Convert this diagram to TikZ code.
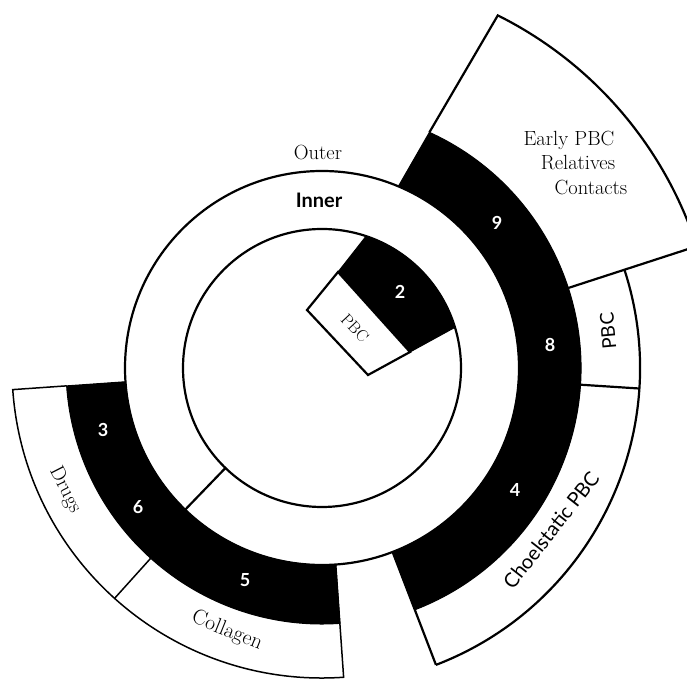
\documentclass[tikz,border=0pt]{standalone}
\usepackage{fontspec}
\newfontfamily\sansf{Lato}
\newcommand{\Ann}[5]{\path[#1] (#2:#4pt) arc[start angle=#2,end angle=#3,radius=#4pt] -- (#3:#5pt) arc[start angle=#3,end angle=#2,radius=#5pt] -- cycle;}
\begin{document}
\begin{tikzpicture}[x=1pt,y=1pt,line join=miter,
  outl/.style={draw=black,line width=2.2pt},
  thinl/.style={draw=black,line width=1.5pt},
  blk/.style={fill=black,draw=black,line width=1pt},
  wbox/.style={fill=white,draw=black,line width=2.2pt},
  seriflbl/.style={font=\fontsize{20.5}{24}\selectfont,inner sep=0pt},
  sanslbl/.style={font=\sansf\fontsize{19}{22}\selectfont,inner sep=0pt},
  num/.style={font=\sansf\bfseries\fontsize{18}{21}\selectfont,text=white,inner sep=0pt}]
\useasboundingbox (0,0) rectangle (687,679);
\clip (0,0) rectangle (687,679);
\fill[white] (0,0) rectangle (687,679);
\begin{scope}[shift={(322,311)}]
 % black bands
 \path[blk] (-69:197pt) arc[start angle=-69,end angle=67.2,radius=197pt] -- (65.5:259pt) arc[start angle=65.5,end angle=-69,radius=259pt] -- cycle;
 \Ann{blk}{184}{274}{197}{256}
 % right outer bands
 \draw[outl] (65.5:259pt) -- (63.5:394pt) arc[start angle=63.5,end angle=18,radius=394pt] -- (18:259pt);
 \draw[outl] (18:318pt) arc[start angle=18,end angle=-69,radius=318pt];
 \draw[outl] (-3.7:259pt) -- (-3.7:318pt);
 \draw[outl] (-69:197pt) -- (-69:318pt);
 % left outer bands
 \draw[thinl] (184:256pt) -- (184:310pt) arc[start angle=184,end angle=274,radius=310pt] -- (274:197pt);
 \draw[thinl] (228:256pt) -- (228:310pt);
 % rings
 \draw[outl] (0,0) circle[radius=197pt];
 \draw[outl] (0,0) circle[radius=139pt];
 \draw[outl] (226:139pt) -- (226:197pt);
 % central sector
 \path[blk] (16,96) -- (71.5:139pt) arc[start angle=71.5,end angle=17,radius=139pt] -- (88,16) -- cycle;
 \path[wbox] (46,-7) -- (-15,58) -- (16,96) -- (88,16) -- cycle;
\end{scope}
% labels
\node[seriflbl] (outer) at (318,526) {Outer};
\node[sanslbl,font=\sansf\bfseries\fontsize{20}{24}\selectfont] (inner) at (319,479) {Inner};
\node[seriflbl] (early) at (569,539) {Early PBC};
\node[seriflbl] (rel) at (578,516) {Relatives};
\node[seriflbl] (cont) at (591,491) {Contacts};
\node[sanslbl,rotate=95] (pbcr) at (608,348) {PBC};
\node[sanslbl,font=\sansf\fontsize{20}{24}\selectfont,rotate=52] (chol) at (551,149) {Choelstatic PBC};
\node[seriflbl,font=\fontsize{21.5}{24}\selectfont,rotate=-22] (coll) at (227,48) {Collagen};
\node[seriflbl,font=\fontsize{20.5}{24}\selectfont,rotate=-63] (drugs) at (65,189) {Drugs};
\node[seriflbl,font=\fontsize{16.5}{18}\selectfont,rotate=-47] (pbcs) at (355,351) {PBC};
\node[num] (n2) at (400,387) {2};
\node[num] (n9) at (497,456) {9};
\node[num] (n8) at (550,334) {8};
\node[num] (n4) at (515,189) {4};
\node[num] (n3) at (103,249) {3};
\node[num] (n6) at (138,172) {6};
\node[num] (n5) at (245,99) {5};
\end{tikzpicture}
\end{document}
